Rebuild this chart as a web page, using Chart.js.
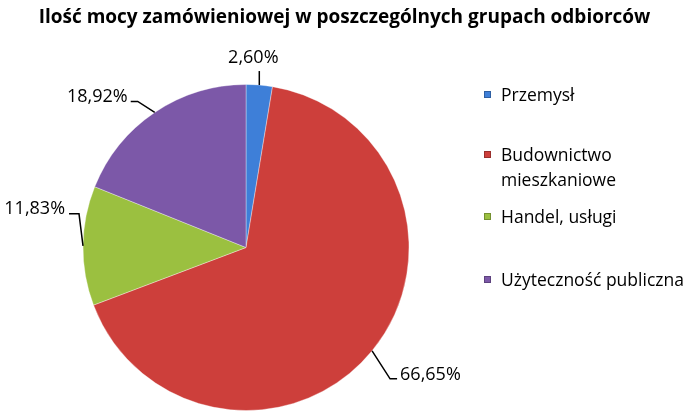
<!DOCTYPE html>
<html><head><meta charset="utf-8">
<script src="https://cdn.jsdelivr.net/npm/chart.js@4/dist/chart.umd.min.js"></script>
<style>
html,body{margin:0;padding:0;background:#fff;}
#wrap{position:relative;width:689px;height:411px;overflow:hidden;font-family:"Open Sans",sans-serif;}
#title{position:absolute;left:0;top:3px;width:689px;text-align:center;font-weight:bold;font-size:19px;color:#000;letter-spacing:0px;white-space:nowrap;}
#cv{position:absolute;left:0;top:0;}
.lg{position:absolute;left:484px;font-size:17.5px;color:#000;line-height:25px;white-space:nowrap;}
.lg i{position:absolute;left:0;top:9px;width:7px;height:7px;}
.lg span{display:block;margin-left:17px;}
</style></head><body>
<div id="wrap">
<canvas id="cv" width="689" height="411"></canvas>
<div id="title">Ilość mocy zamówieniowej w poszczególnych grupach odbiorców</div>
<div id="legend"></div>
</div>
<script>
const categories = ["Przemysł", "Budownictwo mieszkaniowe", "Handel, usługi", "Użyteczność publiczna"];
const legendLines = [["Przemysł"], ["Budownictwo", "mieszkaniowe"], ["Handel, usługi"], ["Użyteczność publiczna"]];
const values = [2.60, 66.65, 11.83, 18.92];
const valueLabels = ["2,60%", "66,65%", "11,83%", "18,92%"];
const colors = ["#3E7FD8", "#CD3F3B", "#9BC040", "#7C58A8"];

// legend
const legendTops = [82, 142, 204, 267];
const lg = document.getElementById('legend');
legendLines.forEach((lines, i) => {
  const d = document.createElement('div');
  d.className = 'lg';
  d.style.top = legendTops[i] + 'px';
  d.innerHTML = '<i style="background:' + colors[i] + ';box-shadow:inset 0 0 0 1px rgba(0,0,0,0.25)"></i>' + lines.map(t => '<span>' + t + '</span>').join('');
  lg.appendChild(d);
});

// leader line / label geometry (style options)
const leaderCfg = [
  {ex: 0, ey: -14, tail: 0, align: 'center', tx: -6, ty: -13},
  {ex: 18, ey: 28, tail: 7, align: 'left', tx: 3, ty: -4},
  {ex: -4, ey: -32, tail: -10, align: 'right', tx: -4, ty: -5},
  {ex: -17, ey: -11, tail: -7, align: 'right', tx: -3, ty: -5}
];

const labelPlugin = {
  id: 'leaderLabels',
  afterDatasetsDraw(chart) {
    const ctx = chart.ctx;
    const meta = chart.getDatasetMeta(0);
    ctx.save();
    ctx.font = '18px "Open Sans", sans-serif';
    ctx.fillStyle = '#000';
    ctx.strokeStyle = '#000';
    ctx.lineWidth = 1.5;
    meta.data.forEach((arc, i) => {
      const p = arc.getProps(['x', 'y', 'startAngle', 'endAngle', 'outerRadius'], true);
      const a = (p.startAngle + p.endAngle) / 2;
      const sx = p.x + Math.cos(a) * p.outerRadius;
      const sy = p.y + Math.sin(a) * p.outerRadius;
      const c = leaderCfg[i];
      const ex = sx + c.ex, ey = sy + c.ey;
      const tx = ex + c.tail;
      ctx.beginPath();
      ctx.moveTo(sx, sy);
      ctx.lineTo(ex, ey);
      ctx.lineTo(tx, ey);
      ctx.stroke();
      ctx.textAlign = c.align;
      ctx.textBaseline = 'middle';
      ctx.fillText(valueLabels[i], tx + c.tx, ey + c.ty);
    });
    ctx.restore();
  }
};

new Chart(document.getElementById('cv'), {
  type: 'pie',
  data: {
    labels: categories,
    datasets: [{
      data: values,
      backgroundColor: colors,
      borderColor: 'rgba(255,255,255,0.35)',
      borderWidth: 1
    }]
  },
  options: {
    responsive: false,
    animation: false,
    layout: {padding: {left: 82, right: 279, top: 84, bottom: 0}},
    plugins: {legend: {display: false}, tooltip: {enabled: false}, title: {display: false}}
  },
  plugins: [labelPlugin]
});
</script>
</body></html>
